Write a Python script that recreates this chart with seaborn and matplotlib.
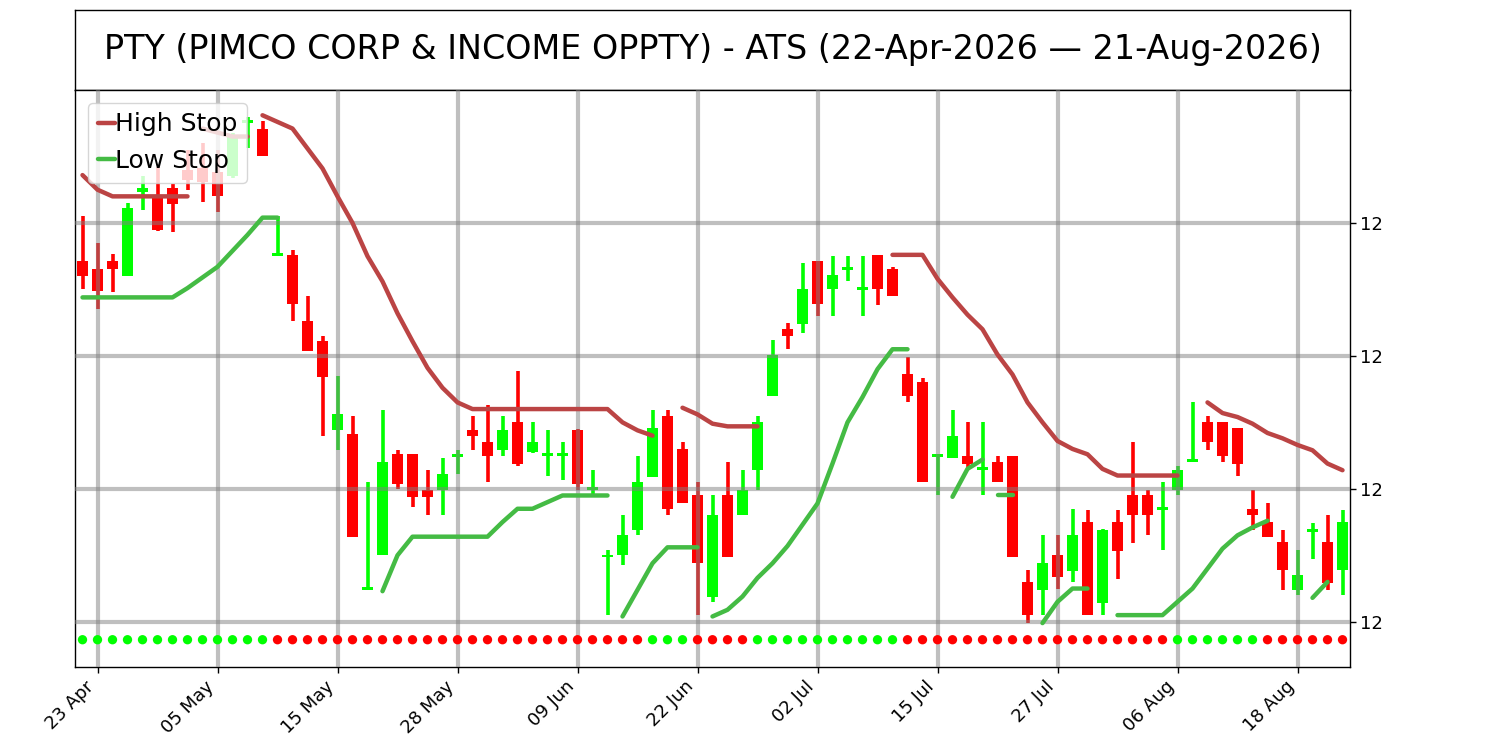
import numpy as np
import pandas as pd
import matplotlib
matplotlib.use("Agg")
import matplotlib.pyplot as plt
import seaborn as sns

# --- datos ---
TITULO = "PTY (PIMCO CORP & INCOME OPPTY) - ATS (22-Apr-2026 — 21-Aug-2026)"
FECHAS = pd.bdate_range("2026-04-22", "2026-08-21", freq="C",
                        holidays=["2026-05-25", "2026-06-19", "2026-07-03"])

apertura = [12.171, 12.165, 12.171, 12.160, 12.223, 12.220, 12.226, 12.240, 12.241, 12.238,
            12.235, 12.275, 12.271, 12.175, 12.176, 12.126, 12.111, 12.044, 12.041, 11.924,
            11.950, 12.026, 12.026, 11.999, 11.999, 12.024, 12.044, 12.035, 12.029, 12.050,
            12.028, 12.025, 12.025, 12.044, 11.999, 11.949, 11.950, 11.969, 12.009, 12.055,
            12.030, 11.995, 11.919, 11.995, 11.980, 12.014, 12.070, 12.120, 12.124, 12.171,
            12.150, 12.165, 12.150, 12.176, 12.165, 12.086, 12.080, 12.024, 12.023, 12.025,
            12.014, 12.020, 12.025, 11.930, 11.924, 11.950, 11.938, 11.975, 11.914, 11.975,
            11.995, 11.995, 11.984, 11.999, 12.020, 12.050, 12.050, 12.046, 11.985, 11.975,
            11.960, 11.924, 11.968, 11.960, 11.939]
maximo = [12.205, 12.185, 12.177, 12.215, 12.235, 12.242, 12.229, 12.255, 12.260, 12.255,
          12.268, 12.280, 12.277, 12.205, 12.180, 12.145, 12.115, 12.085, 12.055, 12.005,
          12.059, 12.029, 12.026, 12.014, 12.023, 12.029, 12.055, 12.063, 12.055, 12.089,
          12.050, 12.044, 12.035, 12.045, 12.014, 11.954, 11.980, 12.025, 12.059, 12.059,
          12.035, 12.005, 11.995, 12.020, 12.014, 12.055, 12.112, 12.125, 12.170, 12.171,
          12.175, 12.175, 12.175, 12.176, 12.167, 12.099, 12.083, 12.026, 12.059, 12.050,
          12.050, 12.025, 12.025, 11.939, 11.965, 11.965, 11.985, 11.984, 11.970, 11.984,
          12.035, 11.999, 12.005, 12.017, 12.065, 12.055, 12.050, 12.046, 11.999, 11.989,
          11.969, 11.954, 11.974, 11.980, 11.984]
minimo = [12.150, 12.135, 12.148, 12.160, 12.210, 12.194, 12.193, 12.225, 12.216, 12.208,
          12.234, 12.256, 12.250, 12.175, 12.126, 12.104, 12.040, 12.029, 11.964, 11.924,
          11.950, 12.000, 11.986, 11.980, 11.980, 12.011, 12.029, 12.005, 12.025, 12.017,
          12.027, 12.010, 12.007, 11.999, 11.995, 11.905, 11.943, 11.965, 12.009, 11.980,
          11.989, 11.905, 11.915, 11.949, 11.980, 11.999, 12.070, 12.105, 12.117, 12.130,
          12.130, 12.156, 12.130, 12.138, 12.145, 12.065, 12.005, 11.995, 12.023, 12.015,
          11.995, 12.005, 11.949, 11.899, 11.905, 11.925, 11.930, 11.905, 11.905, 11.932,
          11.959, 11.965, 11.954, 11.995, 12.020, 12.029, 12.020, 12.010, 11.969, 11.964,
          11.924, 11.920, 11.947, 11.924, 11.920]
cierre = [12.160, 12.149, 12.165, 12.211, 12.226, 12.195, 12.214, 12.232, 12.231, 12.220,
          12.265, 12.277, 12.250, 12.177, 12.139, 12.104, 12.084, 12.056, 11.964, 11.926,
          12.020, 12.004, 11.994, 11.994, 12.011, 12.026, 12.040, 12.025, 12.044, 12.019,
          12.035, 12.026, 12.026, 12.004, 12.001, 11.950, 11.965, 12.005, 12.046, 11.985,
          11.989, 11.944, 11.980, 11.949, 11.999, 12.050, 12.101, 12.115, 12.150, 12.139,
          12.161, 12.166, 12.151, 12.150, 12.145, 12.070, 12.005, 12.026, 12.040, 12.019,
          12.016, 12.005, 11.949, 11.905, 11.944, 11.934, 11.965, 11.905, 11.969, 11.953,
          11.980, 11.980, 11.986, 12.014, 12.022, 12.035, 12.025, 12.019, 11.980, 11.964,
          11.939, 11.935, 11.970, 11.929, 11.975]

# tramos de los stops: indice inicial + valores
high_stop_inicio = [0, 8, 12, 40, 54, 75]
high_stop_tramos = [
    [12.236, 12.225, 12.220, 12.220, 12.220, 12.220, 12.220, 12.220],
    [12.271, 12.268, 12.265, 12.265],
    [12.281, 12.276, 12.271, 12.256, 12.241, 12.220, 12.200, 12.175, 12.156, 12.132,
     12.111, 12.091, 12.076, 12.065, 12.060, 12.060, 12.060, 12.060, 12.060, 12.060,
     12.060, 12.060, 12.060, 12.060, 12.050, 12.044, 12.040],
    [12.061, 12.056, 12.049, 12.047, 12.047, 12.047],
    [12.176, 12.176, 12.176, 12.158, 12.144, 12.131, 12.120, 12.101, 12.086, 12.065,
     12.050, 12.036, 12.030, 12.026, 12.015, 12.010, 12.010, 12.010, 12.010, 12.010],
    [12.065, 12.057, 12.054, 12.049, 12.042, 12.038, 12.033, 12.029, 12.019, 12.014],
]
low_stop_inicio = [0, 20, 36, 42, 58, 61, 64, 69, 82]
low_stop_tramos = [
    [12.144, 12.144, 12.144, 12.144, 12.144, 12.144, 12.144, 12.151, 12.159, 12.167,
     12.179, 12.191, 12.204, 12.204],
    [11.923, 11.950, 11.964, 11.964, 11.964, 11.964, 11.964, 11.964, 11.975, 11.985,
     11.985, 11.990, 11.995, 11.995, 11.995, 11.995],
    [11.904, 11.924, 11.944, 11.956, 11.956, 11.956],
    [11.904, 11.909, 11.919, 11.933, 11.944, 11.957, 11.973, 11.989, 12.019, 12.050,
     12.069, 12.090, 12.105, 12.105],
    [11.994, 12.015, 12.022],
    [11.995, 11.995],
    [11.899, 11.915, 11.925, 11.925],
    [11.905, 11.905, 11.905, 11.905, 11.915, 11.925, 11.940, 11.955, 11.965, 11.971,
     11.976],
    [11.918, 11.930],
]

# tendencia (u = alcista, d = bajista) para los puntos inferiores
tendencia = ("uuuuuuuuuuuuu" "ddddddddddddddddddddddddd" "uuu" "dddd"
             "uuuuuuuuuu" "dddddddddddddddddd" "uuuuuu" "dddddd")
NIVEL_PUNTOS = 11.8865

Y_TICKS = [11.9, 12.0, 12.1, 12.2]
Y_LIM = (11.866, 12.3)

# --- estilo ---
VERDE = "#00ff00"
ROJO = "#ff0000"
COLOR_HIGH = "#bb4444"
COLOR_LOW = "#44bb44"

sns.set_style("ticks")
plt.rcParams["font.family"] = ["DejaVu Sans"]
plt.rcParams["axes.edgecolor"] = "black"
plt.rcParams["text.color"] = "black"
plt.rcParams["xtick.color"] = "black"
plt.rcParams["ytick.color"] = "black"
plt.rcParams["xtick.labelcolor"] = "black"
plt.rcParams["ytick.labelcolor"] = "black"

fig = plt.figure(figsize=(15, 7.5), dpi=100)
ax_t = fig.add_axes([0.05, 0.88, 0.85, 0.1067])
ax = fig.add_axes([0.05, 0.1107, 0.85, 0.7693])

# caja del titulo
ax_t.set_xticks([])
ax_t.set_yticks([])
ax_t.text(0.5, 0.5, TITULO, ha="center", va="center", fontsize=24,
          color="black", transform=ax_t.transAxes)
for s in ax_t.spines.values():
    s.set_color("black")
    s.set_linewidth(1.0)

x = np.arange(len(apertura))
o = np.array(apertura)
c = np.array(cierre)
colores = [VERDE if cc >= oo else ROJO for oo, cc in zip(o, c)]

# velas
ax.vlines(x, minimo, maximo, colors=colores, linewidth=2.6, zorder=2)
base = np.minimum(o, c)
alto = np.abs(c - o)
min_alto = 0.0022
base = np.where(alto < min_alto, (o + c) / 2 - min_alto / 2, base)
alto = np.maximum(alto, min_alto)
ax.bar(x, alto, bottom=base, width=0.72, color=colores, linewidth=0, zorder=2)

# stops
for k, (ini, vals) in enumerate(zip(high_stop_inicio, high_stop_tramos)):
    sns.lineplot(x=np.arange(ini, ini + len(vals)), y=vals, ax=ax, color=COLOR_HIGH,
                 linewidth=3.2, label="High Stop" if k == 0 else None, zorder=3)
for k, (ini, vals) in enumerate(zip(low_stop_inicio, low_stop_tramos)):
    sns.lineplot(x=np.arange(ini, ini + len(vals)), y=vals, ax=ax, color=COLOR_LOW,
                 linewidth=3.2, label="Low Stop" if k == 0 else None, zorder=3)

# puntos de tendencia
col_puntos = [VERDE if t == "u" else ROJO for t in tendencia]
sns.scatterplot(x=x, y=[NIVEL_PUNTOS] * len(x), ax=ax, c=col_puntos, s=45,
                linewidth=0, legend=False, zorder=3)

# ejes
ax.set_xlim(-0.5, len(x) - 0.5)
ax.set_ylim(*Y_LIM)
pos_ticks = list(range(1, len(x), 8))
ax.set_xticks(pos_ticks)
ax.set_xticklabels([FECHAS[i].strftime("%d %b") for i in pos_ticks],
                   rotation=45, ha="right", fontsize=13)
ax.yaxis.tick_right()
ax.set_yticks(Y_TICKS)
ax.set_yticklabels([f"{v:.0f}" for v in Y_TICKS], fontsize=13)
ax.tick_params(axis="both", direction="out", length=4, width=1, color="black")
ax.set_xlabel("")
ax.set_ylabel("")
ax.grid(True, color="gray", alpha=0.5, linewidth=3)
ax.set_axisbelow(False)
for s in ax.spines.values():
    s.set_color("black")
    s.set_linewidth(1.0)

ax.legend(loc="upper left", fontsize=18, handlelength=0.7, handletextpad=0.0,
          framealpha=0.8, borderaxespad=0.5)

fig.savefig("out.png", dpi=100)
